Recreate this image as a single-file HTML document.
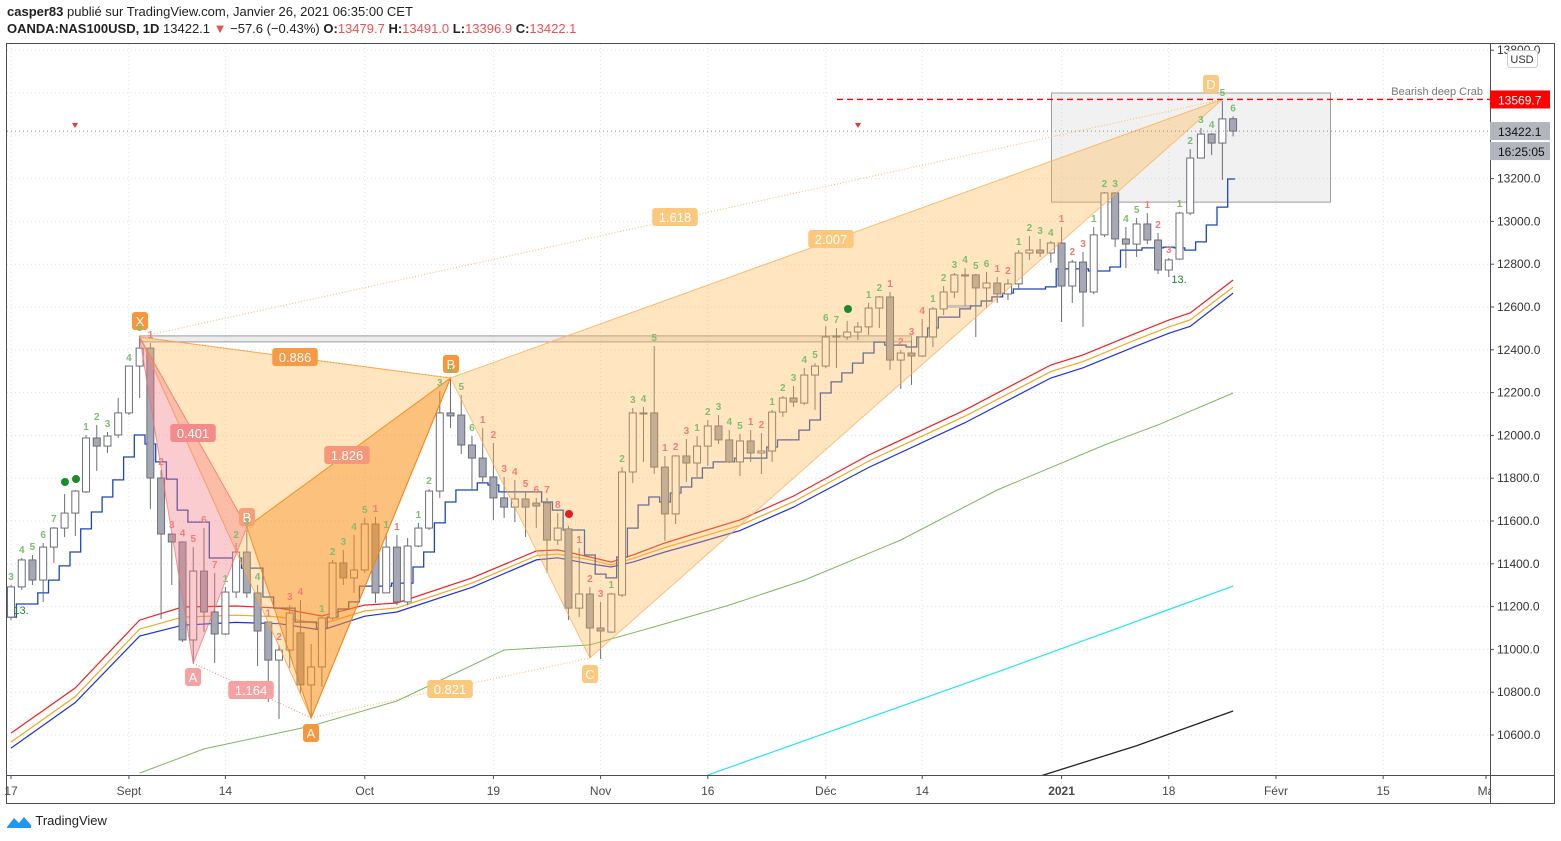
<!DOCTYPE html>
<html><head><meta charset="utf-8">
<style>
body{margin:0;background:#fff;width:1561px;height:841px;overflow:hidden;font-family:"Liberation Sans",sans-serif;}
#hdr1{position:absolute;left:7px;top:4px;font-size:13px;color:#222;}
#hdr2{position:absolute;left:7px;top:21px;font-size:13px;color:#222;}
.r{color:#f05050}
#logo{position:absolute;left:6px;top:813px;font-size:13px;color:#222;}
svg{position:absolute;left:0;top:0;}
</style></head><body>
<div id="hdr1"><b>casper83</b> publié sur TradingView.com, Janvier 26, 2021 06:35:00 CET</div>
<div id="hdr2"><b>OANDA:NAS100USD, 1D</b> 13422.1 <span class="r">▼</span> −57.6 (−0.43%) <b>O:</b><span class="r">13479.7</span> <b>H:</b><span class="r">13491.0</span> <b>L:</b><span class="r">13396.9</span> <b>C:</b><span class="r">13422.1</span></div>
<div id="logo"><svg width="26" height="16" viewBox="0 0 26 16" style="position:relative;vertical-align:middle;top:-1px"><path d="M1 14 L8 5 L13 10 L18 4 L25 12 L25 15 L1 15Z" fill="#2196f3"/></svg> TradingView</div>
<svg id="chart" width="1561" height="841"></svg>
<script>
// ---- data ----
const opens=[11151,11292,11418,11324,11478,11567,11637,11736,11988,11950,12002,12105,12324,12408,11801,11539,11502,11044,11366,11175,11072,11268,11455,11264,11128,10950,10997,11077,10834,10918,11147,11404,11334,11371,11586,11264,11478,11222,11483,11567,11740,12105,12095,11955,11894,11806,11708,11665,11703,11684,11684,11511,11563,11193,11259,11100,11081,11254,11829,12105,12105,11852,11633,11904,11871,11950,12044,11979,11876,11974,11918,11927,12109,12175,12151,12282,12324,12460,12460,12483,12507,12595,12647,12352,12385,12371,12460,12591,12670,12745,12750,12689,12712,12661,12708,12852,12866,12852,12899,12698,12810,12670,12937,13133,12918,12894,12988,12913,12773,12824,13039,13296,13408,13366,13479.7];
const highs=[11301,11427,11441,11497,11572,11726,11745,12002,12049,12016,12175,12324,12464,12432,11838,11545,11505,11478,11567,11357,11292,11497,11558,11301,11130,11021,11207,11231,11025,11151,11418,11465,11535,11614,11619,11544,11535,11521,11591,11750,12207,12268,12189,11997,12035,11965,11806,11792,11736,11708,11708,11637,11577,11474,11292,11222,11264,11852,12128,12133,12418,11904,11908,11983,11997,12072,12095,12025,12007,12025,12011,12119,12184,12231,12315,12338,12511,12502,12535,12530,12619,12651,12670,12399,12446,12544,12600,12698,12759,12782,12755,12764,12740,12731,12866,12932,12918,12908,12974,12820,12857,12974,13137,13137,12974,13016,13039,12946,12829,13044,13338,13436,13413,13563,13491];
const lows=[11137,11278,11301,11222,11404,11525,11530,11731,11834,11918,11988,12095,12175,11656,11142,11301,11035,10936,11081,10936,11067,11240,11240,10922,10754,10675,10913,10796,10679,10824,11137,11301,11264,11357,11217,11264,11207,11207,11478,11558,11708,12035,11913,11745,11782,11605,11614,11595,11525,11567,11357,11488,11137,11151,10960,10955,11077,11245,11778,11876,11820,11507,11586,11782,11806,11857,11960,11871,11810,11876,11820,11876,12086,12133,12142,12119,12315,12315,12446,12446,12469,12502,12306,12217,12236,12366,12413,12563,12642,12605,12460,12595,12619,12633,12684,12820,12834,12806,12530,12619,12507,12661,12927,12880,12782,12834,12894,12754,12740,12820,13030,13296,13310,13194,13396.9];
const closes=[11292,11418,11324,11478,11567,11637,11740,11988,11950,11997,12105,12324,12408,11801,11539,11502,11044,11366,11175,11072,11268,11455,11264,11086,10950,10997,11170,10834,10918,11147,11404,11334,11371,11586,11264,11478,11222,11483,11567,11740,12105,12091,11955,11894,11806,11708,11665,11703,11665,11670,11511,11567,11193,11259,11100,11086,11259,11829,12105,12100,11852,11633,11904,11871,11950,12044,11979,11876,11974,11918,11927,12109,12175,12156,12282,12324,12460,12465,12483,12507,12595,12647,12352,12385,12371,12460,12591,12670,12750,12750,12689,12712,12661,12708,12852,12866,12852,12899,12698,12810,12670,12937,13133,12918,12894,12988,12913,12773,12820,13039,13296,13408,13366,13479,13422.1];
// moving averages (keypoint index / value)
const maIdx=[0,6,12,16,21,25,29,33,36,43,49,51,54,56,58,61,64,68,73,80,89,97,100,105,108,110,114];
const emaRed=[10609,10820,11137,11198,11203,11193,11156,11207,11217,11334,11460,11465,11432,11408,11441,11497,11544,11605,11717,11908,12119,12329,12376,12479,12539,12572,12726];
const emaOrange=[10567,10780,11095,11151,11160,11152,11118,11180,11194,11310,11438,11446,11418,11394,11425,11476,11520,11580,11690,11880,12090,12298,12345,12448,12507,12540,12693];
const emaBlue=[10539,10752,11062,11113,11126,11120,11090,11155,11175,11290,11418,11428,11400,11385,11408,11455,11497,11555,11665,11850,12060,12268,12316,12418,12477,12510,12665];
const greenIdx=[12,18,28,36,46,54,60,67,74,83,92,102,107,114];
const greenMA=[10422,10535,10642,10759,10997,11021,11105,11207,11324,11511,11745,11955,12049,12198];
const cyanIdx=[60,92,114];
const cyanMA=[10324,10894,11296];
const blackIdx=[96,105,114];
const blackMA=[10408,10550,10712];
// step line
const stepIdx=[0,1,3,4,5,6,7,8,9,10,11,12,13,14,15,16,17,19,22,24,25,27,29,30,31,32,33,36,38,39,40,41,42,44,45,46,50,51,52,54,55,56,57,58,59,60,61,62,63,64,65,66,68,71,72,74,75,76,77,78,79,80,81,82,84,85,86,87,89,90,91,92,93,94,97,98,101,103,104,106,108,109,110,111,112,113,114];
const stepVal=[11151,11212,11264,11324,11390,11455,11563,11642,11712,11792,11899,12002,11960,11876,11796,11651,11595,11427,11380,11245,11193,11128,11100,11151,11189,11222,11296,11310,11385,11455,11591,11689,11745,11778,11768,11736,11689,11651,11558,11441,11352,11334,11432,11567,11675,11712,11689,11731,11759,11801,11848,11876,11894,11946,11979,12025,12072,12198,12250,12292,12338,12385,12436,12422,12413,12460,12502,12553,12591,12605,12628,12647,12665,12684,12694,12778,12768,12787,12866,12876,12880,12876,12866,12904,12983,13067,13198,13240];
// harmonic pattern points
const crabIdx=[12,17,22,28];          // X, A, B, C (pink crab)
const crabPrice=[12460,10936,11572,10680];
const bigIdx=[12,28,41,54,113];       // X, A, B, C, D
const bigPrice=[12460,10680,12268,10960,13570];
// TD sequential counts
const tdIdx=[0,1,2,3,4,7,8,9,11,12,13,14,15,16,17,18,19,20,21,22,23,24,25,26,27,29,30,31,32,33,34,35,36,38,39,40,41,42,43,44,45,46,47,48,49,50,51,53,54,55,56,57,58,59,60,61,62,63,64,65,66,67,68,69,70,71,72,73,74,75,76,77,80,81,82,83,84,85,86,87,88,89,90,91,92,93,94,95,96,97,98,99,100,101,102,103,104,105,106,107,108,109,110,111,112,113,114];
const tdText=['3','4','5','6','7','1','2','3','4','5','1','2','3','4','5','6','7','1','2','3','4','1','2','3','4','1','2','3','4','5','1','1','1','1','2','3','4','5','6','1','2','3','4','5','6','7','8','1','2','3','1','2','3','4','5','1','2','3','1','2','3','4','5','1','2','1','2','3','4','5','6','7','1','2','1','2','3','4','1','2','3','4','5','6','1','2','1','2','3','4','1','2','3','1','2','3','4','5','1','2','3','1','2','3','4','5','6'];
const tdBuy=[1,1,1,1,1,1,1,1,1,1,0,0,0,0,0,0,0,1,1,1,1,0,0,0,0,1,1,1,1,1,0,1,0,1,1,1,1,1,1,0,0,0,0,0,0,0,0,0,0,0,1,1,1,1,1,0,0,0,1,1,1,1,1,0,0,1,1,1,1,1,1,1,1,1,0,0,0,0,1,1,1,1,1,1,0,0,1,1,1,1,0,0,0,1,1,1,1,1,0,0,0,1,1,1,1,1,1];
const priceTicks=[13800,13200,13000,12800,12600,12400,12200,12000,11800,11600,11400,11200,11000,10800,10600];
const timeLabels=['17','Sept','14','Oct','19','Nov','16','Déc','14','2021','18','Févr','15','Ma'];
const timeIdx=[0,11,20,33,45,55,65,76,85,98,108,118,128,138];

// ---- scales ----
const NS='http://www.w3.org/2000/svg';
const svg=document.getElementById('chart');
const X0=11,DX=10.72,PL=7,PR=1490,PT=44,PB=775;
function xOf(i){return X0+i*DX;}
function yOf(p){return 735-(p-10600)*0.2140;}
function mk(tag,attrs,parent){const e=document.createElementNS(NS,tag);for(const k in attrs)e.setAttribute(k,attrs[k]);(parent||svg).appendChild(e);return e;}

// frame
const frame=mk('rect',{x:6.5,y:43.5,width:1548,height:760,fill:'none',stroke:'#4a4e59','stroke-width':1});


// clip
const defs=mk('defs',{});
const cp=mk('clipPath',{id:'plot'},defs);
mk('rect',{x:PL,y:PT,width:PR-PL,height:PB-PT},cp);
const cp2=mk('clipPath',{id:'taxis'},defs);
mk('rect',{x:0,y:PB,width:PR,height:30},cp2);
const plot=mk('g',{'clip-path':'url(#plot)'});



// grid
const grid=mk('g',{stroke:'#dde1e6','stroke-width':1,'stroke-dasharray':'1,3'},plot);


priceTicks.forEach(p=>{mk('line',{x1:PL,x2:PR,y1:yOf(p),y2:yOf(p)},grid);});
mk('line',{x1:PL,x2:PR,y1:yOf(13400),y2:yOf(13400)},grid);
mk('line',{x1:PL,x2:PR,y1:yOf(13600),y2:yOf(13600)},grid);
timeIdx.forEach(i=>{mk('line',{x1:xOf(i),x2:xOf(i),y1:PT,y2:PB},grid);});

// gray band at X level & zone box
const band=mk('rect',{x:xOf(12),y:yOf(12465),width:xOf(84)-xOf(12),height:6,fill:'rgba(200,200,200,0.35)',stroke:'#9a9a9a','stroke-width':1},plot);


const zone=mk('rect',{x:1051.5,y:yOf(13600),width:279,height:yOf(13090)-yOf(13600),fill:'rgba(200,200,200,0.25)',stroke:'#9e9e9e','stroke-width':1},plot);


const bl=mk('rect',{x:xOf(87),y:yOf(12610),width:28,height:3,fill:'rgba(100,130,200,0.45)'},plot);



// lines helper
function poly(idx,vals,color,w,name){
  const pts=idx.map((i,k)=>xOf(i).toFixed(1)+','+yOf(vals[k]).toFixed(1)).join(' ');
  const e=mk('polyline',{points:pts,fill:'none',stroke:color,'stroke-width':w},plot);
  
  
}
poly(cyanIdx,cyanMA,'#22e5f0',1.2,'cyan-ma');
poly(blackIdx,blackMA,'#222',1.3,'black-ma');
poly(greenIdx,greenMA,'#7cb860',1,'green-ma');
poly(maIdx,emaRed,'#f02020',1.2,'red-ema');
poly(maIdx,emaOrange,'#f5a623',1.2,'orange-ema');
poly(maIdx,emaBlue,'#2030e0',1.2,'blue-ema');

// step line
(function(){
  let d='';
  for(let k=0;k<stepIdx.length;k++){
    const xa=xOf(stepIdx[k])-DX/2, xb=(k+1<stepIdx.length?xOf(stepIdx[k+1])-DX/2:xOf(stepIdx[k])+2);
    const y=yOf(stepVal[k]).toFixed(1);
    d+=(k===0?'M':'L')+xa.toFixed(1)+','+y+' L'+xb.toFixed(1)+','+y+' ';
  }
  const e=mk('path',{d:d,fill:'none',stroke:'#1a47b8','stroke-width':1.3},plot);
  
  
})();

// candles
const cg=mk('g',{},plot);


for(let i=0;i<opens.length;i++){
  const x=xOf(i),o=opens[i],c=closes[i],up=c>=o;
  const w=mk('line',{x1:x,x2:x,y1:yOf(highs[i]),y2:yOf(lows[i]),stroke:'#6b6e78','stroke-width':1},cg);
  
  
  const yt=yOf(Math.max(o,c)),yb=yOf(Math.min(o,c));
  const b=mk('rect',{x:x-3.5,y:yt,width:7,height:Math.max(1,yb-yt),fill:up?'#ffffff':'#a6a9b5',stroke:'#6b6e78','stroke-width':1},cg);
  
  
}

// patterns
function P(i,p){return xOf(i).toFixed(1)+','+yOf(p).toFixed(1);}
const pg=mk('g',{},plot);


function tri(a,b,c,fill,stroke,name){
  const e=mk('polygon',{points:a+' '+b+' '+c,fill:fill,stroke:stroke,'stroke-width':1},pg);
  
  
}
function dl(a,b,color,name){
  const [x1,y1]=a.split(','),[x2,y2]=b.split(',');
  const e=mk('line',{x1:x1,y1:y1,x2:x2,y2:y2,stroke:color,'stroke-width':1,'stroke-dasharray':'1,2'},pg);
  
  
}
const bX=P(bigIdx[0],bigPrice[0]),bA=P(bigIdx[1],bigPrice[1]),bB=P(bigIdx[2],bigPrice[2]),bC=P(bigIdx[3],bigPrice[3]),bD=P(bigIdx[4],bigPrice[4]);
const cX=P(crabIdx[0],crabPrice[0]),cA=P(crabIdx[1],crabPrice[1]),cB=P(crabIdx[2],crabPrice[2]),cC=P(crabIdx[3],crabPrice[3]);
tri(bX,bA,bB,'rgba(255,183,77,0.35)','rgba(255,160,60,0.8)','pattern-xab');
tri(bB,bC,bD,'rgba(255,183,77,0.35)','rgba(255,170,80,0.7)','pattern-bcd');
tri(cX,cA,cB,'rgba(245,120,130,0.38)','rgba(240,110,110,0.7)','crab-xab');
tri(cB,cC,bB,'rgba(245,124,0,0.35)','rgba(245,124,0,0.8)','crab-bcd');
dl(bX,bB,'#f5923b','xb-line');
dl(bA,bC,'#fbb768','ac-line');
dl(bX,bD,'#fbb768','xd-line');
dl(bB,bD,'#fbb768','bd-line');
dl(cX,cB,'#f08080','crab-xb-line');
dl(cA,cC,'#f08080','crab-ac-line');

// label helper
function lab(x,y,t,bg,fg,name,fs,w){
  const g=mk('g',{},svg);
  
  
  const tw=w||t.length*7.5+8;
  mk('rect',{x:x-tw/2,y:y-9,width:tw,height:18,rx:3,fill:bg},g);
  const tx=mk('text',{x:x,y:y+5,'text-anchor':'middle','font-size':fs||13,fill:fg},g);
  tx.textContent=t;
}
lab(295,357,'0.886','#f79a45','#fff','ratio-xb');
lab(193,433,'0.401','#f48a8a','#fff','ratio-crab-xb');
lab(347,455,'1.826','#f6977a','#fff','ratio-crab-bd');
lab(251,690,'1.164','#f6a2a2','#fff','ratio-crab-ac');
lab(450,689,'0.821','#fcc87e','#fff','ratio-ac');
lab(675,217,'1.618','#fcc87e','#fff','ratio-xd');
lab(831,239,'2.007','#fcc87e','#fff','ratio-bd');
lab(140,321,'X','#f7963b','#fff','point-x',13,16);
lab(193,677,'A','#f6a2a2','#fff','point-crab-a',13,16);
lab(247,517,'B','#f6a07a','#fff','point-crab-b',13,16);
lab(311,733,'A','#f7963b','#fff','point-a',13,16);
lab(451,364,'B','#f7963b','#fff','point-b',13,16);
lab(590,674,'C','#fcc87e','#fff','point-c',13,16);
lab(1211,84,'D','#fcc87e','#fff','point-d',13,16);

// TD counts
const tg=mk('g',{'font-size':10,'font-weight':'bold','text-anchor':'middle'},svg);


for(let k=0;k<tdIdx.length;k++){
  const i=tdIdx[k];
  const t=mk('text',{x:xOf(i),y:yOf(highs[i])-5,fill:tdBuy[k]?'#7cbf6e':'#f47a7a'},tg);
  
  
  t.textContent=tdText[k];
}
// markers
[[65,482,'#1a8a2a'],[76,479,'#1a8a2a'],[848,309,'#1a8a2a'],[569,514,'#e02020']].forEach(m=>{
  const c=mk('circle',{cx:m[0],cy:m[1],r:4,fill:m[2]});
  
  
});
[[75,125],[858,125]].forEach(m=>{
  const t=mk('polygon',{points:(m[0]-3)+','+(m[1]-2)+' '+(m[0]+3)+','+(m[1]-2)+' '+m[0]+','+(m[1]+3),fill:'#e53935'});
  
  
});
const t13=mk('text',{x:1179,y:283,'font-size':11,fill:'#1a8a2a','text-anchor':'middle'});


t13.textContent='13.';
const t13b=mk('text',{x:21,y:614,'font-size':11,fill:'#1a8a2a','text-anchor':'middle'});


t13b.textContent='13.';

// horizontal reference lines
const dash=mk('line',{x1:837,x2:PR,y1:yOf(13569.7),y2:yOf(13569.7),stroke:'#ff0000','stroke-width':1.4,'stroke-dasharray':'6,4'});


const cur=mk('line',{x1:PL,x2:PR,y1:yOf(13422.1),y2:yOf(13422.1),stroke:'#888','stroke-width':1,'stroke-dasharray':'1,3'});


const bdc=mk('text',{x:1483,y:95,'font-size':11,fill:'#777','text-anchor':'end'});


bdc.textContent='Bearish deep Crab';

// axes
const ax=mk('g',{'font-size':12,fill:'#333'});


mk('line',{x1:PR+0.5,x2:PR+0.5,y1:43,y2:804,stroke:'#4a4e59'},ax);
priceTicks.forEach(p=>{
  mk('line',{x1:PR,x2:PR+4,y1:yOf(p),y2:yOf(p),stroke:'#4a4e59'},ax);
  const t=mk('text',{x:PR+7,y:yOf(p)+4},ax);
  
  
  t.textContent=p.toFixed(1);
});
const usd=mk('g',{});


mk('rect',{x:1507.5,y:50.5,width:30,height:17,rx:3,fill:'#fff',stroke:'#ccc'},usd);
const ut=mk('text',{x:1522,y:63,'font-size':11,fill:'#333','text-anchor':'middle'},usd);ut.textContent='USD';
function plab(y,t,bg,fg,name){
  const g=mk('g',{});
  
  
  mk('rect',{x:PR,y:y-9,width:60,height:18,fill:bg},g);
  const tx=mk('text',{x:PR+8,y:y+5,'font-size':12,fill:fg},g);tx.textContent=t;
}
plab(yOf(13569.7),'13569.7','#ff0000','#fff','target-price-label');
plab(yOf(13422.1),'13422.1','#b2b5be','#111','last-price-label');
plab(yOf(13422.1)+20,'16:25:05','#b2b5be','#111','countdown-label');

const tx=mk('g',{'font-size':12,fill:'#4a4a4a','text-anchor':'middle'});


mk('line',{x1:6,x2:1555,y1:PB+0.5,y2:PB+0.5,stroke:'#4a4e59'},tx);
const tl=mk('g',{'clip-path':'url(#taxis)'},tx);
timeLabels.forEach((s,k)=>{
  let x=xOf(timeIdx[k]);
  if(x>PR) x=PR-4;
  mk('line',{x1:x,x2:x,y1:PB,y2:PB+4,stroke:'#4a4e59'},tl);
  const t=mk('text',{x:x,y:795},tl);
  if(s==='2021') t.setAttribute('font-weight','bold');
  
  
  t.textContent=s;
});
</script>
</body></html>
